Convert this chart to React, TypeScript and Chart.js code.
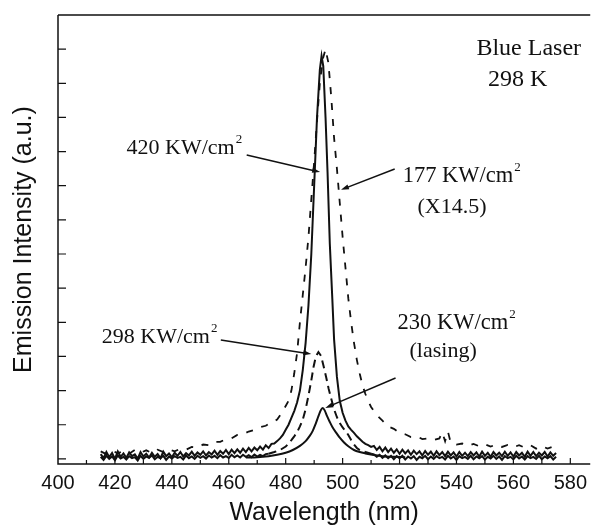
import React, { useEffect, useRef } from "react";
import { Chart, registerables } from "chart.js";

Chart.register(...registerables);

// ---------- data (wavelength nm, intensity a.u. in tick units) ----------
const X_LABEL_TICKS = [400, 420, 440, 460, 480, 500, 520, 540, 560, 580];
const X_SMALL_TICKS = [410, 420, 430, 440, 450, 460, 470, 480, 490, 500, 510, 520, 530, 540, 550, 560, 570, 580];
const Y_TICKS = [0, 1, 2, 3, 4, 5, 6, 7, 8, 9, 10, 11, 12];

// 420 KW/cm2 (solid)
const S420: [number, number][] = [
  [415, 0.14], [416, 0.02], [417, 0.2], [418, 0.05], [419, 0.17], [420, 0.0], [421, 0.22], [422, 0.06], [423, 0.16], [424, 0.03],
  [425, 0.19], [426, 0.08], [427, 0.13], [428, 0.01], [429, 0.2], [430, 0.07], [431, 0.15], [432, 0.04], [433, 0.18], [434, 0.06],
  [435, 0.14], [436, 0.02], [437, 0.21], [438, 0.08], [439, 0.16], [440, 0.05], [441, 0.18], [442, 0.09], [443, 0.2], [444, 0.07],
  [445, 0.17], [446, 0.1], [447, 0.21], [448, 0.09], [449, 0.19], [450, 0.12], [451, 0.22], [452, 0.1], [453, 0.2], [454, 0.13],
  [455, 0.24], [456, 0.12], [457, 0.23], [458, 0.15], [459, 0.26], [460, 0.14], [461, 0.27], [462, 0.17], [463, 0.28], [464, 0.18],
  [465, 0.3], [466, 0.2], [467, 0.32], [468, 0.22], [469, 0.33], [470, 0.25], [471, 0.36], [472, 0.27], [473, 0.4], [474, 0.32],
  [475, 0.44], [476, 0.45], [477, 0.52], [478, 0.6], [479, 0.7], [480, 0.85], [481, 1.0], [482, 1.2], [483, 1.4], [484, 1.65],
  [485, 2.0], [486, 2.6], [487, 3.4], [488, 4.5], [489, 6.0], [490, 8.0], [491, 10.0], [492, 11.4], [492.6, 11.8], [493.2, 11.5],
  [494, 10.0], [494.7, 8.4], [495.5, 6.3], [496.4, 4.65], [497, 3.5], [498, 2.4], [499, 1.7], [500, 1.35], [501, 1.12], [502, 0.95],
  [503, 0.85], [504, 0.76], [505, 0.66], [506, 0.58], [507, 0.5], [508, 0.44], [509, 0.4], [510, 0.35],
  [511, 0.38], [512, 0.26], [513, 0.35], [514, 0.22], [515, 0.33], [516, 0.2], [517, 0.3], [518, 0.18], [519, 0.28], [520, 0.15],
  [521, 0.27], [522, 0.16], [523, 0.25], [524, 0.12], [525, 0.24], [526, 0.14], [527, 0.22], [528, 0.1], [529, 0.23], [530, 0.12],
  [531, 0.21], [532, 0.09], [533, 0.22], [534, 0.11], [535, 0.2], [536, 0.08], [537, 0.21], [538, 0.1], [539, 0.19], [540, 0.07],
  [541, 0.2], [542, 0.09], [543, 0.18], [544, 0.08], [545, 0.2], [546, 0.1], [547, 0.19], [548, 0.07], [549, 0.21], [550, 0.09],
  [551, 0.18], [552, 0.06], [553, 0.2], [554, 0.1], [555, 0.18], [556, 0.08], [557, 0.21], [558, 0.09], [559, 0.19], [560, 0.07],
  [561, 0.2], [562, 0.1], [563, 0.18], [564, 0.06], [565, 0.21], [566, 0.09], [567, 0.2], [568, 0.08], [569, 0.18], [570, 0.1],
  [571, 0.2], [572, 0.07], [573, 0.19], [574, 0.09], [575, 0.17],
];

// 298 KW/cm2 (dashed)
const S298: [number, number][] = [
  [415, 0.06], [416, -0.03], [417, 0.09], [418, 0.0], [419, 0.07], [420, -0.04], [421, 0.1], [422, 0.01], [423, 0.06], [424, -0.02],
  [425, 0.08], [426, 0.02], [427, 0.05], [428, -0.05], [429, 0.09], [430, 0.0], [431, 0.07], [432, 0.03], [433, 0.1], [434, -0.01],
  [435, 0.06], [436, 0.02], [437, 0.09], [438, -0.03], [439, 0.07], [440, 0.01], [441, 0.08], [442, 0.03], [443, 0.06], [444, -0.02],
  [445, 0.1], [446, 0.02], [447, 0.07], [448, 0.0], [449, 0.09], [450, 0.03], [451, 0.08], [452, 0.01], [453, 0.1], [454, 0.04],
  [455, 0.09], [456, 0.02], [457, 0.11], [458, 0.04], [459, 0.08], [460, 0.03], [461, 0.12], [462, 0.05], [463, 0.1], [464, 0.04],
  [465, 0.12], [466, 0.06], [467, 0.11], [468, 0.05], [469, 0.13], [470, 0.07], [471, 0.12], [472, 0.08], [473, 0.14],
  [474, 0.15], [476, 0.2], [478, 0.26], [480, 0.36], [481, 0.45], [482, 0.55], [483, 0.66], [484, 0.78], [485, 0.95], [486, 1.15],
  [487, 1.45], [488, 1.85], [489, 2.3], [489.8, 2.7], [490.6, 3.0], [491.5, 3.13], [492.4, 3.02], [493.3, 2.72], [494.2, 2.4], [495.1, 2.05],
  [496.1, 1.73], [497, 1.45], [498, 1.22], [499, 1.05], [500, 0.92], [501, 0.82], [502, 0.7], [503, 0.55], [504, 0.42], [505, 0.32],
  [506, 0.26], [508, 0.2], [510, 0.15],
  [511, 0.13], [512, 0.06], [513, 0.12], [514, 0.03], [515, 0.1], [516, 0.02], [517, 0.09], [518, -0.01], [519, 0.08], [520, 0.02],
  [521, 0.09], [522, -0.02], [523, 0.07], [524, 0.01], [525, 0.08], [526, -0.03], [527, 0.06], [528, 0.02], [529, 0.09], [530, -0.01],
  [531, 0.07], [532, 0.0], [533, 0.08], [534, 0.02], [535, 0.06], [536, -0.02], [537, 0.09], [538, 0.01], [539, 0.07], [540, -0.03],
  [541, 0.08], [542, 0.02], [543, 0.06], [544, 0.0], [545, 0.09], [546, -0.01], [547, 0.07], [548, 0.02], [549, 0.08], [550, -0.02],
  [551, 0.06], [552, 0.01], [553, 0.09], [554, 0.0], [555, 0.07], [556, -0.03], [557, 0.08], [558, 0.02], [559, 0.06], [560, -0.01],
  [561, 0.09], [562, 0.01], [563, 0.07], [564, -0.02], [565, 0.08], [566, 0.02], [567, 0.06], [568, 0.0], [569, 0.09], [570, -0.01],
  [571, 0.07], [572, 0.02], [573, 0.08], [574, -0.02], [575, 0.06],
];

// 230 KW/cm2, lasing (solid)
const S230: [number, number][] = [
  [466, 0.04], [470, 0.05], [474, 0.08], [477, 0.12], [480, 0.18], [482.5, 0.26], [485, 0.38], [487, 0.52], [488.5, 0.68], [489.5, 0.82],
  [490.5, 1.02], [491.5, 1.25], [492.3, 1.42], [493, 1.49], [493.7, 1.42], [494.5, 1.26], [495.5, 1.08], [496.5, 0.92], [497.8, 0.76],
  [499, 0.62], [500.5, 0.48], [502, 0.37], [504, 0.26], [506, 0.2], [508, 0.16], [510.4, 0.12], [514, 0.08], [518, 0.06], [522, 0.05],
];

// 177 KW/cm2 x14.5 (dashed)
const S177: [number, number][] = [
  [415, 0.22], [417, 0.14], [419, 0.25], [421, 0.16], [423, 0.24], [425, 0.15], [427, 0.26], [429, 0.18], [431, 0.25], [433, 0.17],
  [435, 0.27], [437, 0.2], [439, 0.28], [441, 0.22], [443, 0.3], [445, 0.27], [447, 0.35], [449, 0.33], [451, 0.42], [453, 0.4],
  [455, 0.5], [457, 0.5], [459, 0.58], [461, 0.6], [463, 0.7], [465, 0.72], [467, 0.8], [469, 0.85], [471, 0.93], [473, 0.97],
  [475, 1.07], [477, 1.15], [479, 1.4], [480, 1.55], [481, 1.7], [482, 2.0], [483, 2.5], [484, 3.1], [485, 4.0], [486, 4.8],
  [487, 5.6], [488, 6.5], [489, 7.6], [490, 8.7], [491, 9.9], [492, 11.0], [493, 11.7], [494, 12.0], [495, 11.6], [496, 10.6],
  [497, 9.4], [498, 8.5], [499, 7.5], [500, 6.5], [501, 5.6], [502, 4.7], [503, 4.0], [504, 3.4], [505, 2.9], [506, 2.5],
  [507, 2.15], [508, 1.9], [509, 1.7], [510, 1.52], [511, 1.4], [512, 1.28], [514, 1.12], [516, 0.95], [518, 0.88], [520, 0.76],
  [522, 0.72], [524, 0.64], [526, 0.66], [528, 0.58], [530, 0.6], [532, 0.55], [534, 0.6], [535, 0.78], [536, 0.52], [537, 0.8],
  [538, 0.47], [540, 0.42], [542, 0.45], [544, 0.38], [546, 0.44], [548, 0.37], [550, 0.43], [552, 0.36], [554, 0.42], [556, 0.35],
  [558, 0.41], [560, 0.34], [562, 0.4], [564, 0.33], [566, 0.4], [568, 0.3], [570, 0.38], [572, 0.3], [574, 0.36], [575, 0.28],
];

// ---------- annotations (data coordinates) ----------
const NOTE_TEXTS = ["Blue Laser", "298 K", "420 KW/cm", "177 KW/cm", "(X14.5)", "298 KW/cm", "230 KW/cm", "(lasing)"];
const NOTE_SUP = ["", "", "2", "2", "", "2", "2", ""];
const NOTE_X = [565.4, 561.5, 424.1, 521.1, 526.3, 415.4, 519.3, 523.5];
const NOTE_Y = [12.01, 11.1, 9.11, 8.29, 7.38, 3.57, 3.98, 3.16];
const NOTE_ALIGN = ["center", "center", "left", "left", "left", "left", "left", "left"];
const NOTE_SIZE = [24, 24, 22, 22.5, 22, 22, 22.5, 22];

const ARROW_FROM: [number, number][] = [[466.3, 8.9], [518.3, 8.49], [457.2, 3.48], [518.6, 2.37]];
const ARROW_TO: [number, number][] = [[492.1, 8.4], [499.4, 7.88], [489.0, 3.07], [493.9, 1.49]];

const INK = "#111";
const SERIF = "'Liberation Serif', 'Times New Roman', serif";
const SANS = "'Liberation Sans', Arial, sans-serif";

const toPts = (a: [number, number][]) => a.map(([x, y]) => ({ x, y }));

const framePlugin = {
  id: "frame",
  afterDraw(chart: any) {
    const { ctx, chartArea: a, scales } = chart;
    const x = scales.x;
    const y = scales.y;
    ctx.save();
    ctx.strokeStyle = INK;
    ctx.lineWidth = 1.5;
    ctx.beginPath();
    ctx.moveTo(a.left, a.top);
    ctx.lineTo(a.right, a.top);
    ctx.moveTo(a.left, a.top);
    ctx.lineTo(a.left, a.bottom);
    ctx.lineTo(a.right, a.bottom);
    ctx.stroke();

    ctx.lineWidth = 1.2;
    ctx.beginPath();
    for (const v of X_SMALL_TICKS) {
      const px = x.getPixelForValue(v);
      const len = v % 20 === 0 ? 6 : 4;
      ctx.moveTo(px, a.bottom);
      ctx.lineTo(px, a.bottom - len);
    }
    for (const v of Y_TICKS) {
      const py = y.getPixelForValue(v);
      ctx.moveTo(a.left, py);
      ctx.lineTo(a.left + 8, py);
    }
    ctx.stroke();

    // arrows
    ctx.lineWidth = 1.5;
    ctx.fillStyle = INK;
    for (let i = 0; i < ARROW_FROM.length; i++) {
      const x0 = x.getPixelForValue(ARROW_FROM[i][0]);
      const y0 = y.getPixelForValue(ARROW_FROM[i][1]);
      const x1 = x.getPixelForValue(ARROW_TO[i][0]);
      const y1 = y.getPixelForValue(ARROW_TO[i][1]);
      const ang = Math.atan2(y1 - y0, x1 - x0);
      ctx.beginPath();
      ctx.moveTo(x0, y0);
      ctx.lineTo(x1 - 4 * Math.cos(ang), y1 - 4 * Math.sin(ang));
      ctx.stroke();
      ctx.beginPath();
      ctx.moveTo(x1, y1);
      ctx.lineTo(x1 - 8 * Math.cos(ang) + 2.5 * Math.sin(ang), y1 - 8 * Math.sin(ang) - 2.5 * Math.cos(ang));
      ctx.lineTo(x1 - 8 * Math.cos(ang) - 2.5 * Math.sin(ang), y1 - 8 * Math.sin(ang) + 2.5 * Math.cos(ang));
      ctx.closePath();
      ctx.fill();
    }

    // texts
    ctx.textBaseline = "middle";
    for (let i = 0; i < NOTE_TEXTS.length; i++) {
      const px = x.getPixelForValue(NOTE_X[i]);
      const py = y.getPixelForValue(NOTE_Y[i]);
      ctx.font = `${NOTE_SIZE[i]}px ${SERIF}`;
      ctx.textAlign = NOTE_ALIGN[i] as CanvasTextAlign;
      ctx.fillText(NOTE_TEXTS[i], px, py);
      if (NOTE_SUP[i]) {
        const w = ctx.measureText(NOTE_TEXTS[i]).width;
        ctx.font = `13px ${SERIF}`;
        ctx.textAlign = "left";
        ctx.fillText(NOTE_SUP[i], px + w + 1, py - 8);
      }
    }
    ctx.restore();
  },
};

export default function App() {
  const ref = useRef<HTMLCanvasElement | null>(null);

  useEffect(() => {
    document.body.style.margin = "0";
    document.body.style.overflow = "hidden";
    const canvas = ref.current;
    if (!canvas) return;
    const chart = new Chart(canvas, {
      type: "line",
      data: {
        datasets: [
          {
            label: "420 KW/cm2",
            data: toPts(S420),
            borderColor: INK,
            borderWidth: 2,
            pointRadius: 0,
            tension: 0,
            fill: false,
          },
          {
            label: "298 KW/cm2",
            data: toPts(S298),
            borderColor: INK,
            borderWidth: 2,
            pointRadius: 0,
            tension: 0,
            fill: false,
            segment: {
              borderDash: (c: any) => (c.p0.parsed.x >= 474 && c.p0.parsed.x < 510 ? [8, 5] : undefined),
            },
          },
          {
            label: "230 KW/cm2 (lasing)",
            data: toPts(S230),
            borderColor: INK,
            borderWidth: 2,
            pointRadius: 0,
            tension: 0.3,
            fill: false,
          },
          {
            label: "177 KW/cm2 (X14.5)",
            data: toPts(S177),
            borderColor: INK,
            borderWidth: 1.8,
            borderDash: [7, 9],
            pointRadius: 0,
            tension: 0,
            fill: false,
          },
        ],
      },
      options: {
        animation: false,
        responsive: false,
        maintainAspectRatio: false,
        layout: { padding: { top: 15, right: 0, left: 0, bottom: 0 } },
        plugins: { legend: { display: false }, tooltip: { enabled: false } },
        scales: {
          x: {
            type: "linear",
            min: 400,
            max: 587,
            afterBuildTicks: (s: any) => {
              s.ticks = X_LABEL_TICKS.map((v) => ({ value: v }));
            },
            afterFit: (s: any) => {
              s.height = 63;
            },
            ticks: {
              color: INK,
              font: { family: SANS, size: 20 },
              padding: 7,
              maxRotation: 0,
              autoSkip: false,
            },
            grid: { display: false, drawTicks: false },
            border: { display: false },
            title: {
              display: true,
              text: "Wavelength (nm)",
              color: INK,
              font: { family: SANS, size: 25, lineHeight: 1 },
              padding: { top: 0, bottom: 1.5 },
            },
          },
          y: {
            type: "linear",
            min: -0.15,
            max: 13,
            afterFit: (s: any) => {
              s.width = 58;
            },
            ticks: { display: false },
            grid: { display: false, drawTicks: false },
            border: { display: false },
            title: {
              display: true,
              text: "Emission Intensity (a.u.)",
              color: INK,
              font: { family: SANS, size: 25, lineHeight: 1.2 },
              padding: { top: 9.5, bottom: 0 },
            },
          },
        },
      },
      plugins: [framePlugin],
    });
    return () => chart.destroy();
  }, []);

  return (
    <div style={{ width: 594, height: 527 }}>
      <canvas ref={ref} width={594} height={527} style={{ display: "block" }} />
    </div>
  );
}
